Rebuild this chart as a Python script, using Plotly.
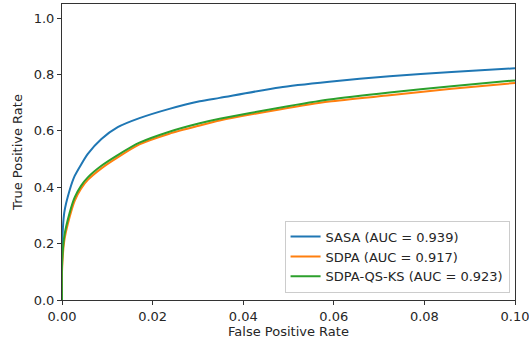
import plotly.graph_objects as go

fpr = [0.0, 0.0, 0.0005, 0.0017, 0.0028, 0.0042, 0.0057, 0.0087, 0.0123, 0.0171,
       0.0237, 0.0304, 0.0348, 0.048, 0.059, 0.0723, 0.086, 0.1]
tpr_sasa = [0.0, 0.18, 0.31, 0.39, 0.44, 0.48, 0.518, 0.571, 0.613, 0.645,
            0.678, 0.705, 0.717, 0.754, 0.774, 0.794, 0.809, 0.822]
tpr_sdpa = [0.0, 0.10, 0.21, 0.295, 0.352, 0.395, 0.426, 0.467, 0.506, 0.552,
            0.590, 0.619, 0.637, 0.676, 0.704, 0.726, 0.749, 0.770]
tpr_qsks = [0.0, 0.12, 0.226, 0.31, 0.364, 0.405, 0.435, 0.476, 0.514, 0.558,
            0.597, 0.627, 0.643, 0.682, 0.711, 0.736, 0.758, 0.779]

series_names = ["SASA (AUC = 0.939)", "SDPA (AUC = 0.917)", "SDPA-QS-KS (AUC = 0.923)"]
series_values = [tpr_sasa, tpr_sdpa, tpr_qsks]
colors = ["#1f77b4", "#ff7f0e", "#2ca02c"]

x_ticks = [0.0, 0.02, 0.04, 0.06, 0.08, 0.10]
x_tick_labels = ["0.00", "0.02", "0.04", "0.06", "0.08", "0.10"]
y_ticks = [0.0, 0.2, 0.4, 0.6, 0.8, 1.0]
y_tick_labels = ["0.0", "0.2", "0.4", "0.6", "0.8", "1.0"]

fig = go.Figure()
for name, vals, c in zip(series_names, series_values, colors):
    fig.add_trace(go.Scatter(x=fpr, y=vals, mode="lines", name=name,
                             line=dict(color=c, width=2, shape="spline", smoothing=0.6)))

font = dict(family="DejaVu Sans", size=13, color="#262626")
axis_common = dict(showgrid=False, zeroline=False, showline=True, mirror=True,
                   linecolor="#333333", linewidth=1, ticks="outside", ticklen=4,
                   tickcolor="#333333", tickwidth=1, tickfont=font, automargin=False,
                   ticklabeloverflow="allow")

fig.update_layout(
    width=529, height=345,
    margin=dict(l=62, r=14, t=4, b=45, autoexpand=False),
    paper_bgcolor="white", plot_bgcolor="white",
    font=font,
    showlegend=True,
    legend=dict(x=0.988, y=0.025, xanchor="right", yanchor="bottom",
                bgcolor="rgba(255,255,255,0.8)", bordercolor="#cccccc", borderwidth=1,
                font=dict(family="DejaVu Sans", size=13, color="#262626"),
                tracegroupgap=0, itemwidth=30),
    xaxis=dict(range=[0, 0.1], tickvals=x_ticks, ticktext=x_tick_labels,
               title=dict(text="False Positive Rate", font=font, standoff=2), **axis_common),
    yaxis=dict(range=[0, 1.05], tickvals=y_ticks, ticktext=y_tick_labels,
               title=dict(text="True Positive Rate", font=font, standoff=8), **axis_common),
)

fig.write_html("out.html", config={"displayModeBar": False},
               post_script="document.body.style.margin='0';document.body.style.padding='0';")
